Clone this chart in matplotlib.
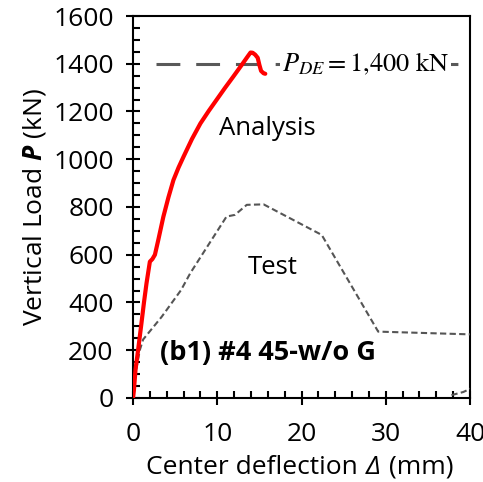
import matplotlib
matplotlib.use("Agg")
import matplotlib.pyplot as plt
from matplotlib.ticker import MultipleLocator
from matplotlib.offsetbox import TextArea, HPacker, AnchoredOffsetbox

plt.rcParams['font.family'] = ['Open Sans', 'DejaVu Sans']
plt.rcParams['mathtext.fontset'] = 'custom'
plt.rcParams['mathtext.rm'] = 'Open Sans'
plt.rcParams['mathtext.it'] = 'Open Sans:italic'
plt.rcParams['mathtext.bf'] = 'Open Sans:bold'
plt.rcParams['mathtext.bfit'] = 'Open Sans:italic:bold'

# Analysis (FE) load-deflection curve
analysis_defl = [0.0, 0.1, 0.3, 0.6, 1.0, 1.3, 1.6, 2.0, 2.3, 2.6, 3.0, 3.6,
                 4.2, 4.8, 5.4, 6.0, 7.0, 8.0, 9.0, 9.9, 10.9, 11.9, 12.9,
                 13.6, 13.95, 14.2, 14.5, 14.8, 15.0, 15.2, 15.5, 15.7]
analysis_load = [0, 30, 120, 200, 313, 400, 480, 571, 582, 600, 662, 759,
                 840, 913, 965, 1011, 1085, 1150, 1203, 1248, 1298, 1346, 1395,
                 1430, 1447, 1446, 1438, 1425, 1395, 1370, 1360, 1358]

# Test load-deflection curve
test_defl = [0.0, 0.3, 0.8, 1.2, 3.4, 5.7, 6.8, 11.1, 12.1, 13.5, 15.5,
             22.4, 29.1, 40.5]
test_load = [0, 103, 200, 245, 340, 452, 523, 760, 767, 809, 811,
             683, 278, 266]
# unloading branch returning near the right edge
test_tail_defl = [37.8, 39.2, 40.6]
test_tail_load = [12, 25, 48]

p_de = 1400

fig = plt.figure(figsize=(4.83, 4.82), dpi=100)
ax = fig.add_axes([0.2754, 0.1743, 0.6977, 0.7925])

ax.plot(test_defl, test_load, color='#555555', lw=1.5, ls=(0, (3, 1.6)),
        zorder=3)
ax.plot(test_tail_defl, test_tail_load, color='#555555', lw=1.5,
        ls=(0, (3, 1.6)), zorder=3)
ax.plot([2.7, 40], [p_de, p_de], color='#595959', lw=2.2,
        ls=(0, (7.8, 5.2)), zorder=2)
ax.plot(analysis_defl, analysis_load, color='#ff0000', lw=3.0, zorder=4,
        solid_capstyle='round', solid_joinstyle='round')

ax.text(27.6, p_de, r'$P_{DE}=1{,}400\ \mathrm{kN}$', math_fontfamily='stix',
        fontsize=19, ha='center', va='center', zorder=5,
        bbox=dict(facecolor='white', edgecolor='none', pad=1.5))
ax.text(15.9, 1128, 'Analysis', fontsize=18.5, ha='center', va='center')
ax.text(16.6, 545, 'Test', fontsize=18.5, ha='center', va='center')
ax.text(3.2, 190, '(b1) #4 45-w/o G', fontsize=19.5, fontweight='bold',
        ha='left', va='center')

ax.set_xlim(0, 40)
ax.set_ylim(0, 1600)
ax.xaxis.set_major_locator(MultipleLocator(10))
ax.xaxis.set_minor_locator(MultipleLocator(2))
ax.yaxis.set_major_locator(MultipleLocator(200))
ax.yaxis.set_minor_locator(MultipleLocator(50))

for s in ax.spines.values():
    s.set_linewidth(1.5)
ax.tick_params(which='major', direction='inout', length=10, width=1.5,
               labelsize=19, top=False, right=False)
ax.tick_params(axis='x', which='major', pad=12)
ax.tick_params(axis='y', which='major', pad=9)
ax.tick_params(which='minor', direction='in', length=5, width=1.5,
               top=False, right=False)

# x-axis title with an italic Delta
label_parts = [
    TextArea('Center deflection', textprops=dict(fontsize=19)),
    TextArea('Δ', textprops=dict(fontsize=19, fontstyle='italic')),
    TextArea('(mm)', textprops=dict(fontsize=19)),
]
xlabel_box = HPacker(children=label_parts, align='baseline', pad=0, sep=6)
anchored = AnchoredOffsetbox(loc='center', child=xlabel_box, pad=0,
                             frameon=False, bbox_to_anchor=(0.621, 0.031),
                             bbox_transform=fig.transFigure, borderpad=0)
fig.add_artist(anchored)

ax.set_ylabel(r'Vertical Load $\mathbfit{P}$ (kN)', fontsize=19, labelpad=4)

fig.savefig('out.png', dpi=100)
